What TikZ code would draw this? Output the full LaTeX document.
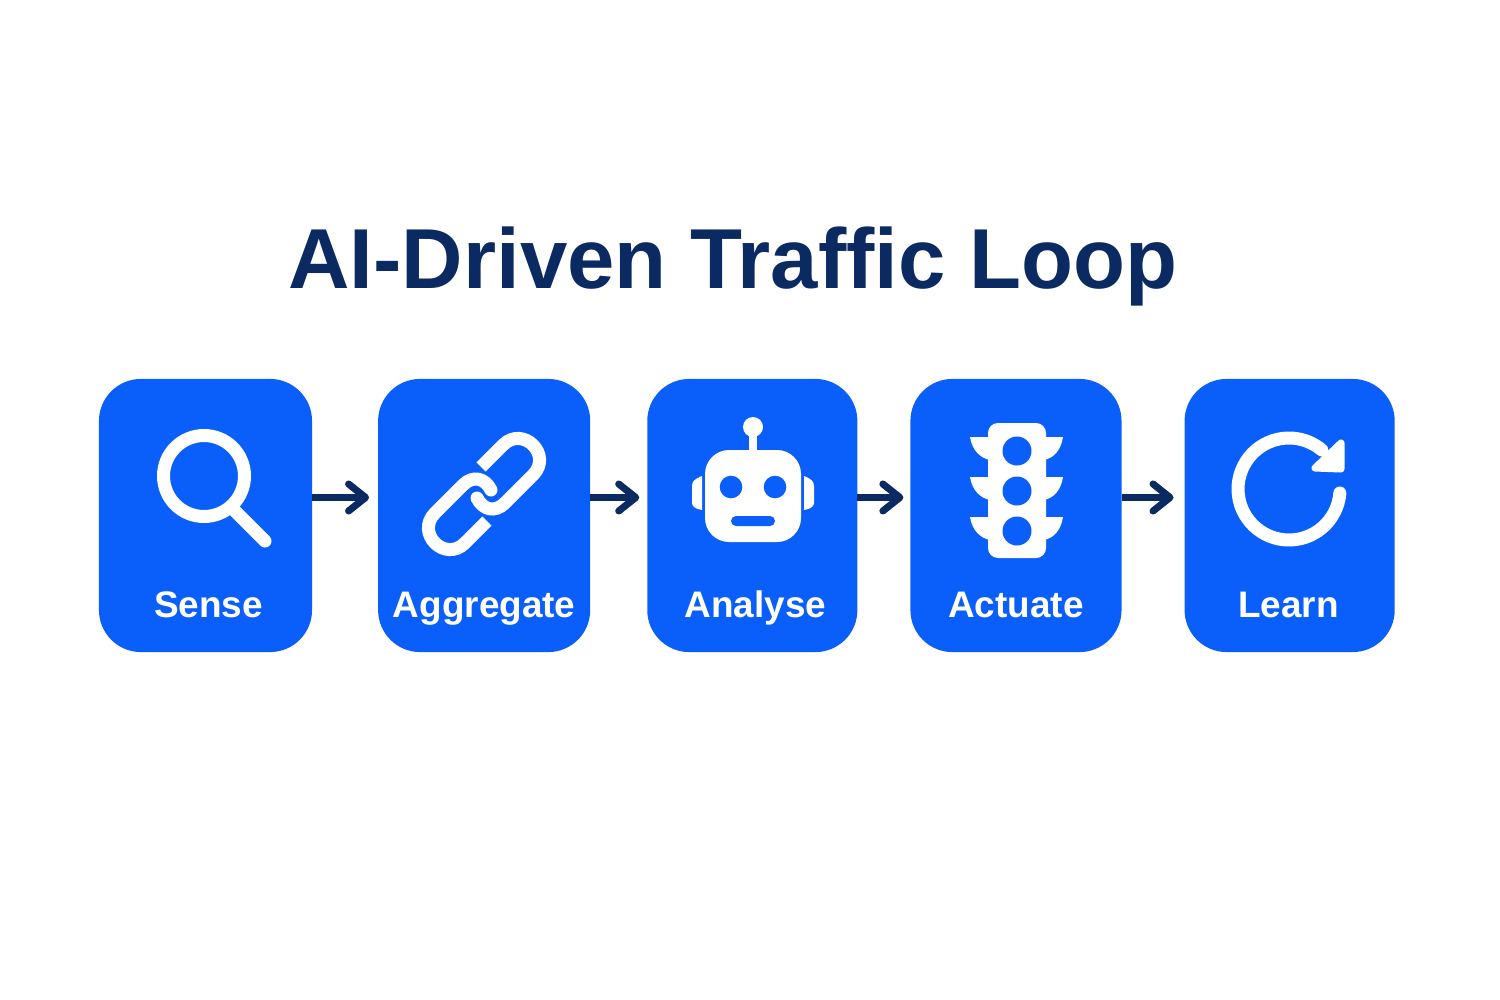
\documentclass[tikz,border=0pt]{standalone}
\usepackage{fontspec}
\setmainfont{Liberation Sans}
\usetikzlibrary{arrows.meta, positioning}
\definecolor{stepblue}{HTML}{0A5FFA}
\definecolor{navy}{HTML}{0B2A62}

\begin{document}
\begin{tikzpicture}[x=0.01cm, y=-0.01cm,
    stepbox/.style={fill=stepblue, rounded corners=0.42cm, minimum height=2.73cm, outer sep=0pt, inner sep=0pt},
    steplabel/.style={anchor=base, text=white, font=\bfseries\fontsize{10.5}{13}\selectfont},
    flow/.style={draw=navy, line width=2pt, -{Straight Barb[length=1.7mm, width=2.7mm, round]}},
    iconline/.style={draw=white, line width=3.7pt},
    iconfill/.style={fill=white},
    iconhole/.style={fill=stepblue}]
    \useasboundingbox (0,0) rectangle (1500,1000);

    \node[anchor=base, text=navy, font=\bfseries\fontsize{24.2}{28}\selectfont] (title) at (733,288) {AI-Driven Traffic Loop};

    \node[stepbox, minimum width=2.13cm] (sense) at (205.5,515.5) {};
    \node[stepbox, minimum width=2.12cm] (aggregate) [right=0.66cm of sense] {};
    \node[stepbox, minimum width=2.10cm] (analyse) [right=0.57cm of aggregate] {};
    \node[stepbox, minimum width=2.11cm] (actuate) [right=0.53cm of analyse] {};
    \node[stepbox, minimum width=2.10cm] (learn) [right=0.63cm of actuate] {};

    \node[steplabel] (sense_text) at ([xshift=0.03cm, yshift=0.35cm]sense.south) {Sense};
    \node[steplabel] (aggregate_text) at ([yshift=0.35cm]aggregate.south) {Aggregate};
    \node[steplabel] (analyse_text) at ([xshift=0.03cm, yshift=0.35cm]analyse.south) {Analyse};
    \node[steplabel] (actuate_text) at ([yshift=0.35cm]actuate.south) {Actuate};
    \node[steplabel] (learn_text) at ([xshift=-0.01cm, yshift=0.35cm]learn.south) {Learn};

    \path
    ([yshift=0.18cm]sense.east) edge[flow] ([xshift=-0.09cm, yshift=0.18cm]aggregate.west)
    ([yshift=0.18cm]aggregate.east) edge[flow] ([xshift=-0.08cm, yshift=0.18cm]analyse.west)
    ([yshift=0.18cm]analyse.east) edge[flow] ([xshift=-0.07cm, yshift=0.18cm]actuate.west)
    ([yshift=0.18cm]actuate.east) edge[flow] ([xshift=-0.11cm, yshift=0.18cm]learn.west);

    % magnifier
    \draw[iconline] (204,476) circle (40.5);
    \draw[iconline, line cap=round] (235,511) -- (265,541);

    % chain
    \foreach \a in {0,180} {
        \draw[iconline, rotate around={\a:(484,494)}] (481,467) -- (503,445)
            .. controls (523,425) and (553,455) .. (533,475)
            -- (505,503) .. controls (495,513) and (483,510) .. (477,498);
        \fill[iconfill, rotate around={\a:(484,494)}] (477,498) circle (6.5);
    }

    % robot
    \fill[iconfill] (753,427) circle (10);
    \fill[iconfill] (749,430) rectangle (757,452);
    \fill[iconfill, rounded corners=0.24cm] (705,450) rectangle (801,542);
    \fill[iconhole] (731,487) circle (11.3);
    \fill[iconhole] (775,487) circle (11.3);
    \fill[iconhole, rounded corners=0.05cm] (731,516) rectangle (775,526);
    \fill[iconfill] (702,476) .. controls (695,479) and (692,481) .. (692,486) -- (692,503)
        .. controls (692,506) and (695,509) .. (702,510) -- cycle;
    \fill[iconfill] (804,476) .. controls (811,479) and (814,481) .. (814,486) -- (814,503)
        .. controls (814,506) and (811,509) .. (804,510) -- cycle;

    % traffic light
    \fill[iconfill, rounded corners=0.1cm] (988,423) rectangle (1046,558);
    \foreach \y in {0,40,80} {
        \fill[iconfill] (970,437+\y) -- (990,437+\y) -- (990,460+\y) .. controls (980,458+\y) and (972,450+\y) .. cycle;
        \fill[iconfill] (1063,437+\y) -- (1044,437+\y) -- (1044,460+\y) .. controls (1054,458+\y) and (1061,450+\y) .. cycle;
        \fill[iconhole] (1017,451+\y) circle (14.5);
    }

    % refresh
    \draw[iconline, line cap=round] (1289,489)+(4.5:51) arc[start angle=4.5, end angle=310, radius=51];
    \fill[iconfill, draw=white, line width=2pt, line join=round] (1341,443) -- (1341,469) -- (1315,468) -- cycle;
\end{tikzpicture}
\end{document}
